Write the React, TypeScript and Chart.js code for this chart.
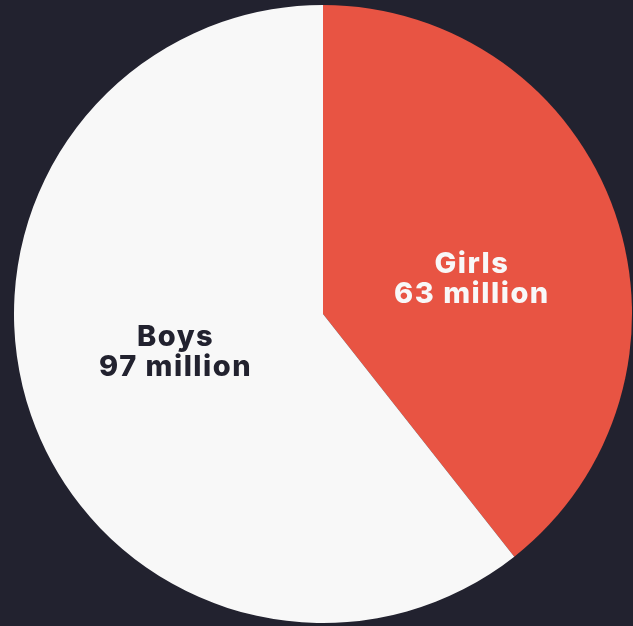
import React, { useEffect, useRef } from "react";
import { Chart, registerables } from "chart.js";

Chart.register(...registerables);

const categories = ["Girls", "Boys"];
const values = [63, 97];
const valueLabels = ["63 million", "97 million"];
const sliceColors = ["#E85443", "#F8F8F8"];
const textColors = ["#F8F8F8", "#22222F"];
const BG = "#22222F";

const labelPlugin = {
  id: "sliceLabels",
  afterDatasetsDraw(chart: any) {
    const ctx = chart.ctx;
    const meta = chart.getDatasetMeta(0);
    ctx.save();
    ctx.font = "800 29px Inter, 'Noto Sans', sans-serif";
    (ctx as any).letterSpacing = "1.5px";
    ctx.textAlign = "center";
    ctx.textBaseline = "alphabetic";
    meta.data.forEach((arc: any, i: number) => {
      const { x, y, startAngle, endAngle, outerRadius } = arc.getProps(
        ["x", "y", "startAngle", "endAngle", "outerRadius"],
        true
      );
      const mid = (startAngle + endAngle) / 2 + (5.2 * Math.PI) / 180;
      const r = outerRadius * 0.494;
      const cx = x + Math.cos(mid) * r + 0.75;
      const cy = y + Math.sin(mid) * r;
      ctx.fillStyle = textColors[i];
      ctx.fillText(categories[i], cx, cy - 4.5);
      ctx.fillText(valueLabels[i], cx, cy + 25.5);
    });
    ctx.restore();
  },
};

export default function App() {
  const ref = useRef<HTMLCanvasElement>(null);
  useEffect(() => {
    document.body.style.margin = "0";
    document.body.style.background = BG;
    const chart = new Chart(ref.current!, {
      type: "pie",
      data: {
        labels: categories,
        datasets: [
          {
            data: values,
            backgroundColor: sliceColors,
            borderWidth: 0,
          },
        ],
      },
      options: {
        responsive: false,
        animation: false,
        layout: { padding: { left: 14, right: 1, top: 5, bottom: 3 } },
        plugins: {
          legend: { display: false },
          tooltip: { enabled: false },
        },
      },
      plugins: [labelPlugin],
    });
    return () => chart.destroy();
  }, []);
  return (
    <div style={{ width: 633, height: 626, background: BG }}>
      <canvas ref={ref} width={633} height={626} style={{ display: "block" }} />
    </div>
  );
}
